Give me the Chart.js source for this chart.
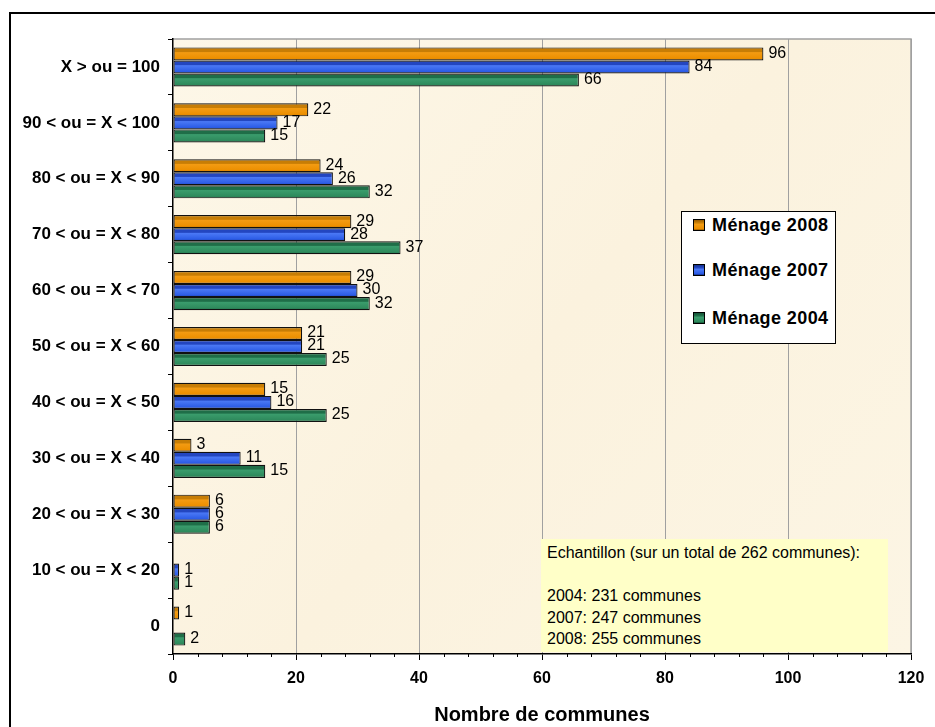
<!DOCTYPE html>
<html>
<head>
<meta charset="utf-8">
<script src="https://cdn.jsdelivr.net/npm/chart.js@4/dist/chart.umd.min.js"></script>
<style>
  body { margin: 0; background: #fff; font-family: "Liberation Sans", Arial, sans-serif; }
  #wrap { position: relative; width: 935px; height: 727px; overflow: hidden; }
  #frame { position: absolute; left: 9px; top: 12px; width: 940px; height: 730px;
           border-top: 2px solid #000; border-left: 2px solid #000; }
  #legend { position: absolute; left: 681px; top: 211px; width: 153px; height: 131px;
            background: #fff; border: 1px solid #000; }
  .item { position: absolute; left: 11px; height: 20px; line-height: 20px;
          font: bold 18px "Liberation Sans", Arial, sans-serif; letter-spacing: 0.4px; white-space: nowrap; }
  .item span { display: inline-block; width: 10px; height: 10px; border: 1px solid #000;
               margin-right: 7px; vertical-align: 0px; }
  #note { position: absolute; left: 541px; top: 539px; width: 347px; height: 113px;
          background: #ffffc8; font: 16px "Liberation Sans", Arial, sans-serif;
          line-height: 21.6px; padding: 3px 0 0 6px; box-sizing: border-box; }
</style>
</head>
<body>
<div id="wrap">
  <canvas id="chart" width="935" height="727"></canvas>
  <div id="frame"></div>
  <div id="legend"></div>
  <div id="note">
    Echantillon (sur un total de 262 communes):<br><br>
    2004: 231 communes<br>
    2007: 247 communes<br>
    2008: 255 communes
  </div>
</div>
<script>
// tranches de taux
const categories = [
    "X > ou = 100",
    "90 < ou = X < 100",
    "80 < ou = X < 90",
    "70 < ou = X < 80",
    "60 < ou = X < 70",
    "50 < ou = X < 60",
    "40 < ou = X < 50",
    "30 < ou = X < 40",
    "20 < ou = X < 30",
    "10 < ou = X < 20",
    "0"
];
const menage_2008 = [96, 22, 24, 29, 29, 21, 15, 3, 6, null, 1];
const menage_2007 = [84, 17, 26, 28, 30, 21, 16, 11, 6, 1, null];
const menage_2004 = [66, 15, 32, 37, 32, 25, 25, 15, 6, 1, 2];
const x_ticks = [0, 20, 40, 60, 80, 100, 120];

const series_names = ["Ménage 2008", "Ménage 2007", "Ménage 2004"];
// couleurs : bord sombre, bande, corps clair, corps
const shades = [
    ["#9a5c00", "#c77d05", "#f39b12", "#ec8f00"],
    ["#14308a", "#2346c0", "#4a78f5", "#2c5ce6"],
    ["#145236", "#1f6e48", "#3a9c6c", "#2e8a5c"]
];
const cat_pct = 0.7;

function bar_gradient(c) {
    const chart = c.chart;
    const ys = chart.scales.y;
    const sh = shades[c.datasetIndex];
    if (!ys || c.type !== 'data' || !chart.chartArea) return sh[3];
    const step = Math.abs(ys.getPixelForValue(1) - ys.getPixelForValue(0));
    const thick = step * cat_pct / 3;
    const center = ys.getPixelForValue(c.dataIndex) + (c.datasetIndex - 1) * thick;
    const g = chart.ctx.createLinearGradient(0, center - thick / 2, 0, center + thick / 2);
    g.addColorStop(0, sh[0]);
    g.addColorStop(0.12, sh[1]);
    g.addColorStop(0.32, sh[1]);
    g.addColorStop(0.4, sh[2]);
    g.addColorStop(0.85, sh[3]);
    g.addColorStop(1, sh[0]);
    return g;
}

// legende html
const legend_el = document.getElementById('legend');
const legend_tops = [3, 48, 96];
series_names.forEach((name, i) => {
    const d = document.createElement('div');
    d.className = 'item';
    d.style.top = legend_tops[i] + 'px';
    const sw = 'linear-gradient(' + shades[i][0] + ' 0%,' + shades[i][1] + ' 25%,' + shades[i][2] + ' 45%,' + shades[i][3] + ' 85%,' + shades[i][0] + ' 100%)';
    d.innerHTML = '<span style="background:' + sw + '"></span>' + name;
    legend_el.appendChild(d);
});

const plot_bg = {
    id: 'plot_bg',
    beforeDraw(chart) {
        const {ctx, chartArea: a} = chart;
        ctx.save();
        const g = ctx.createLinearGradient(a.left, a.top, a.right, a.bottom);
        g.addColorStop(0, '#fdf7e8');
        g.addColorStop(0.5, '#fbf2de');
        g.addColorStop(1, '#fcf5e4');
        ctx.fillStyle = g;
        ctx.fillRect(a.left, a.top, a.right - a.left, a.bottom - a.top);
        ctx.strokeStyle = '#a0a0a0';
        ctx.lineWidth = 1.5;
        ctx.beginPath();
        ctx.moveTo(a.left, a.top);
        ctx.lineTo(a.right, a.top);
        ctx.lineTo(a.right, a.bottom);
        ctx.stroke();
        ctx.restore();
    },
    afterDraw(chart) {
        // petites graduations tous les 4
        const {ctx, chartArea: a} = chart;
        const xs = chart.scales.x;
        ctx.save();
        ctx.strokeStyle = '#000';
        ctx.lineWidth = 1;
        ctx.beginPath();
        for (let v = 4; v < 120; v += 4) {
            if (v % 20 === 0) continue;
            const px = Math.round(xs.getPixelForValue(v)) + 0.5;
            ctx.moveTo(px, a.bottom);
            ctx.lineTo(px, a.bottom + 3);
        }
        ctx.stroke();
        ctx.restore();
    }
};

const value_labels = {
    id: 'value_labels',
    afterDatasetsDraw(chart) {
        const ctx = chart.ctx;
        ctx.save();
        ctx.font = '16px "Liberation Sans", Arial, sans-serif';
        ctx.fillStyle = '#000';
        ctx.textBaseline = 'middle';
        ctx.textAlign = 'left';
        chart.data.datasets.forEach((ds, di) => {
            chart.getDatasetMeta(di).data.forEach((el, i) => {
                const v = ds.data[i];
                if (v === null) return;
                ctx.fillText(v, el.x + 5, el.y - 0.5);
            });
        });
        ctx.restore();
    }
};

const all_series = [menage_2008, menage_2007, menage_2004];

new Chart(document.getElementById('chart').getContext('2d'), {
    type: 'bar',
    data: {
        labels: categories,
        datasets: all_series.map((vals, i) => ({
            label: series_names[i],
            data: vals,
            backgroundColor: bar_gradient,
            borderColor: '#111',
            borderWidth: 1.2,
            borderSkipped: false,
            categoryPercentage: cat_pct,
            barPercentage: 1
        }))
    },
    options: {
        indexAxis: 'y',
        responsive: false,
        animation: false,
        devicePixelRatio: 1,
        layout: { padding: { left: 0, top: 39, right: 24, bottom: 0 } },
        plugins: { legend: { display: false }, tooltip: { enabled: false } },
        scales: {
            x: {
                min: 0,
                max: 120,
                afterBuildTicks(scale) { scale.ticks = x_ticks.map(v => ({ value: v })); },
                afterFit(scale) { scale.height = 73; },
                grid: {
                    color: (c) => (c.tick && c.tick.value === 0) ? 'rgba(0,0,0,0)' : '#a0a0a0',
                    lineWidth: 1,
                    tickColor: '#000',
                    tickLength: 6
                },
                border: { color: '#000', width: 1.5 },
                ticks: {
                    color: '#000',
                    padding: 9,
                    font: { family: '"Liberation Sans", Arial, sans-serif', size: 16, weight: 'bold' }
                },
                title: {
                    display: true,
                    text: 'Nombre de communes',
                    color: '#000',
                    padding: { top: 4, bottom: 0 },
                    font: { family: '"Liberation Sans", Arial, sans-serif', size: 20, weight: 'bold' }
                }
            },
            y: {
                afterFit(scale) { scale.width = 173; },
                grid: {
                    drawOnChartArea: false,
                    offset: true,
                    color: '#000',
                    tickColor: '#000',
                    tickLength: 5
                },
                border: { color: '#000', width: 1.5 },
                ticks: {
                    color: '#000',
                    padding: 8,
                    font: { family: '"Liberation Sans", Arial, sans-serif', size: 17, weight: 'bold' }
                }
            }
        }
    },
    plugins: [plot_bg, value_labels]
});
</script>
</body>
</html>
